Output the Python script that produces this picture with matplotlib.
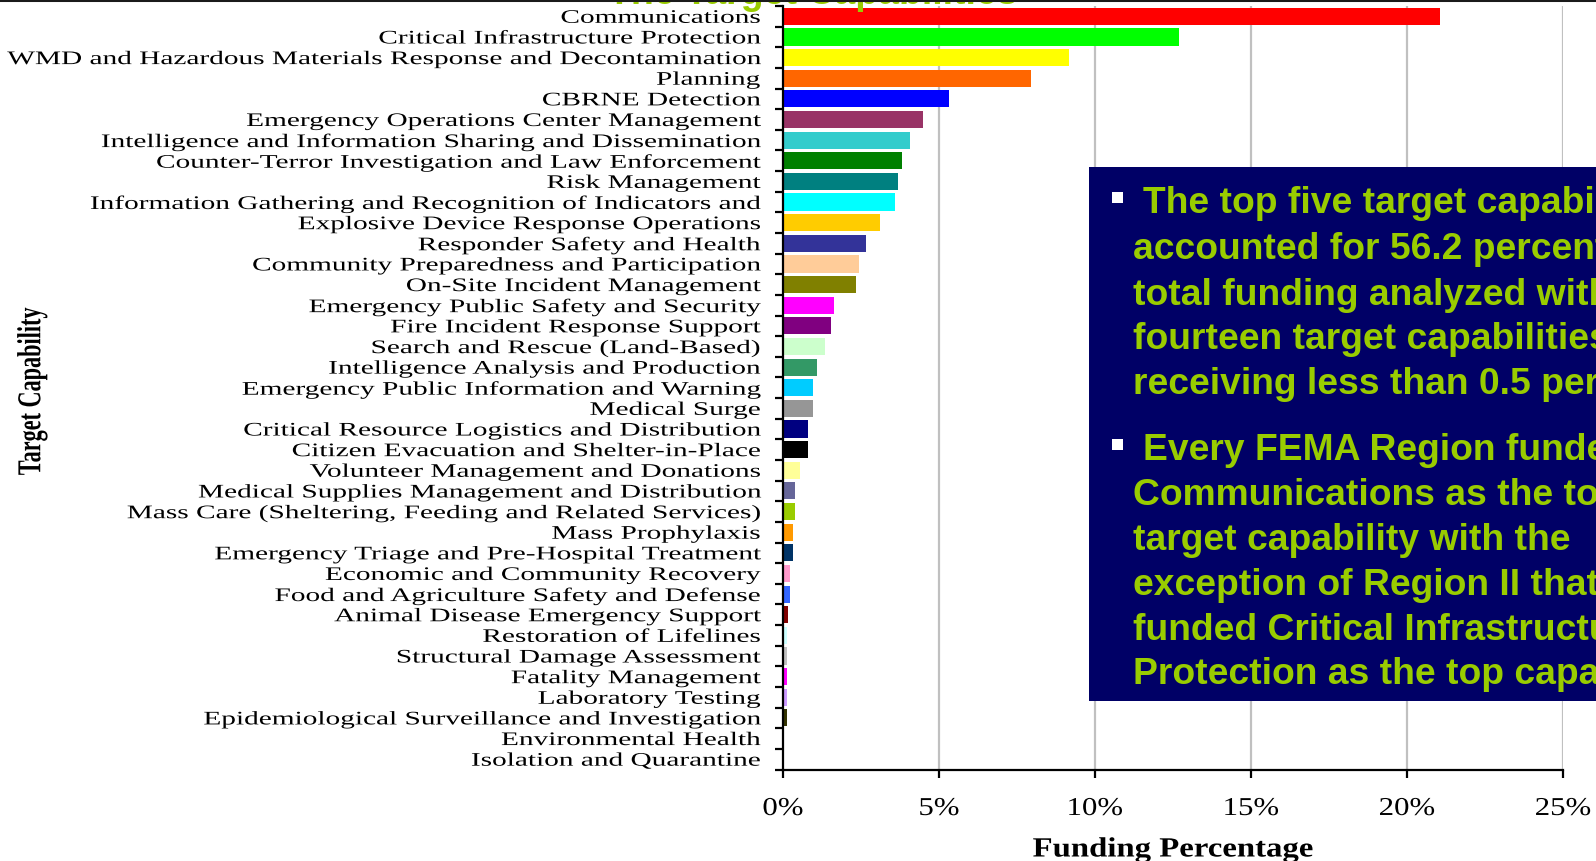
import matplotlib
matplotlib.use("Agg")
import matplotlib.pyplot as plt
from matplotlib.patheffects import AbstractPathEffect
from matplotlib.transforms import Affine2D
from matplotlib.patches import Rectangle
from matplotlib.lines import Line2D

# ---------------- data ----------------
categories = [
    "Communications",
    "Critical Infrastructure Protection",
    "WMD and Hazardous Materials Response and Decontamination",
    "Planning",
    "CBRNE Detection",
    "Emergency Operations Center Management",
    "Intelligence and Information Sharing and Dissemination",
    "Counter-Terror Investigation and Law Enforcement",
    "Risk Management",
    "Information Gathering and Recognition of Indicators and",
    "Explosive Device Response Operations",
    "Responder Safety and Health",
    "Community Preparedness and Participation",
    "On-Site Incident Management",
    "Emergency Public Safety and Security",
    "Fire Incident Response Support",
    "Search and Rescue (Land-Based)",
    "Intelligence Analysis and Production",
    "Emergency Public Information and Warning",
    "Medical Surge",
    "Critical Resource Logistics and Distribution",
    "Citizen Evacuation and Shelter-in-Place",
    "Volunteer Management and Donations",
    "Medical Supplies Management and Distribution",
    "Mass Care (Sheltering, Feeding and Related Services)",
    "Mass Prophylaxis",
    "Emergency Triage and Pre-Hospital Treatment",
    "Economic and Community Recovery",
    "Food and Agriculture Safety and Defense",
    "Animal Disease Emergency Support",
    "Restoration of Lifelines",
    "Structural Damage Assessment",
    "Fatality Management",
    "Laboratory Testing",
    "Epidemiological Surveillance and Investigation",
    "Environmental Health",
    "Isolation and Quarantine",
]

funding_pct = [
    21.05, 12.68, 9.18, 7.95, 5.32, 4.50, 4.07, 3.82, 3.67, 3.58,
    3.10, 2.67, 2.42, 2.35, 1.63, 1.53, 1.34, 1.10, 0.95, 0.95,
    0.79, 0.79, 0.53, 0.37, 0.37, 0.31, 0.31, 0.21, 0.21, 0.15,
    0.13, 0.13, 0.13, 0.13, 0.14, 0.0, 0.0,
]

bar_colors = [
    "#FF0000", "#00FF00", "#FFFF00", "#FF6600", "#0000FF", "#993366",
    "#33CCCC", "#008000", "#008080", "#00FFFF", "#FFCC00", "#333399",
    "#FFCC99", "#808000", "#FF00FF", "#800080", "#CCFFCC", "#339966",
    "#00CCFF", "#969696", "#000080", "#000000", "#FFFF99", "#666699",
    "#99CC00", "#FF9900", "#003366", "#FF99CC", "#3366FF", "#800000",
    "#CCFFFF", "#C0C0C0", "#FF00FF", "#CC99FF", "#333300", "#FFFFFF",
    "#FFFFFF",
]

x_ticks = [0, 5, 10, 15, 20, 25]
x_tick_labels = ["0%", "5%", "10%", "15%", "20%", "25%"]

box_para1 = [
    "The top five target capabilities",
    "accounted for 56.2 percent of the",
    "total funding analyzed with",
    "fourteen target capabilities",
    "receiving less than 0.5 percent.",
]
box_para2 = [
    "Every FEMA Region funded",
    "Communications as the top",
    "target capability with the",
    "exception of Region II that",
    "funded Critical Infrastructure",
    "Protection as the top capability.",
]


# ------------- horizontal stretch effect for text (stays real text) -------------
class StretchX(AbstractPathEffect):
    def __init__(self, sx, anchor="right"):
        super().__init__()
        self.sx = sx
        self.anchor = anchor

    def draw_path(self, renderer, gc, tpath, affine, rgbFace=None):
        ext = tpath.get_extents(affine)
        if self.anchor == "right":
            cx = ext.x1
        elif self.anchor == "left":
            cx = ext.x0
        else:
            cx = 0.5 * (ext.x0 + ext.x1)
        t = affine + Affine2D().translate(-cx, 0).scale(self.sx, 1.0).translate(cx, 0)
        renderer.draw_path(gc, tpath, t, rgbFace)


W, H = 1596, 862
fig = plt.figure(figsize=(W / 100, H / 100), dpi=100)
fig.patch.set_facecolor("white")

ax_l, ax_r = 783, 1563
ax_t, ax_b = 7, 770.5
ax = fig.add_axes([ax_l / W, 1 - ax_b / H, (ax_r - ax_l) / W, (ax_b - ax_t) / H])

ypos = list(range(len(categories)))
ax.barh(ypos, funding_pct, height=0.83, color=bar_colors, edgecolor="none", zorder=3)

ax.set_xlim(0, 25)
ax.set_ylim(len(categories) - 0.5, -0.5)

# grid
for xv in x_ticks[1:]:
    ax.axvline(xv, color="#C0C0C0", lw=1.6, zorder=1)

for side in ["top", "right"]:
    ax.spines[side].set_visible(False)
for side in ["left", "bottom"]:
    ax.spines[side].set_linewidth(1.6)
    ax.spines[side].set_color("black")
    ax.spines[side].set_zorder(4)

# y ticks: labels at centres, tick marks at boundaries
ax.set_yticks(ypos)
ax.set_yticklabels(categories, fontfamily="Liberation Serif", fontsize=13.8, color="black")
ax.tick_params(axis="y", which="major", length=0, pad=16.5)
ax.set_yticks([i + 0.5 for i in range(-1, len(categories))], minor=True)
ax.tick_params(axis="y", which="minor", length=6, width=1.6, direction="out", color="black")
for lab in ax.get_yticklabels():
    lab.set_path_effects([StretchX(1.53, "right")])

# x ticks
ax.set_xticks(x_ticks)
ax.set_xticklabels(x_tick_labels, fontfamily="Liberation Serif", fontsize=18.5)
ax.tick_params(axis="x", which="major", length=6, width=1.6, direction="out", pad=14.5, color="black")
for lab in ax.get_xticklabels():
    lab.set_path_effects([StretchX(1.2, "center")])

# axis titles
xl = ax.set_xlabel("Funding Percentage", fontfamily="Liberation Serif", fontsize=20,
                   fontweight="bold", va="center")
ax.xaxis.set_label_coords(0.5, (ax_b - 851) / (ax_b - ax_t))
xl.set_path_effects([StretchX(1.18, "center")])

yl = ax.set_ylabel("Target Capability", fontfamily="Liberation Serif", fontsize=16,
                   fontweight="bold", va="center", ha="center")
ax.yaxis.set_label_coords((32.6 - ax_l) / (ax_r - ax_l), (ax_b - 392) / (ax_b - ax_t))
yl.set_path_effects([StretchX(1.5, "center")])

# ---------------- overlay text box ----------------
box_l, box_t, box_b = 1089, 168, 702
fig.add_artist(Rectangle((box_l / W, 1 - box_b / H), (W - box_l + 10) / W, (box_b - box_t) / H,
                         transform=fig.transFigure, facecolor="#000066", edgecolor="none",
                         zorder=5))

green = "#99CC00"
fs_box = 26.8
base1 = [213, 259, 305, 349, 394]
base2 = [460, 505, 550, 595, 640, 684]
for i, (s, b) in enumerate(zip(box_para1, base1)):
    fig.text((1143 if i == 0 else 1133) / W, 1 - b / H, s, color=green, fontsize=fs_box,
             fontweight="bold", fontfamily="Liberation Sans", ha="left", va="baseline", zorder=6)
for i, (s, b) in enumerate(zip(box_para2, base2)):
    fig.text((1143 if i == 0 else 1133) / W, 1 - b / H, s, color=green, fontsize=fs_box,
             fontweight="bold", fontfamily="Liberation Sans", ha="left", va="baseline", zorder=6)

for cy in (198.5, 445.5):
    fig.add_artist(Rectangle((1112 / W, 1 - (cy + 5.5) / H), 11 / W, 11 / H,
                             transform=fig.transFigure, facecolor="white", edgecolor="none",
                             zorder=6))

# top cut-off title and dark frame line
fig.text(608 / W, 1 - 4.5 / H, "The Target Capabilities", color=green, fontsize=27,
         fontweight="bold", fontfamily="Liberation Sans", ha="left", va="baseline", zorder=6)
fig.add_artist(Line2D([0, 1], [1 - 1 / H, 1 - 1 / H], transform=fig.transFigure,
                      color="#1a1a1a", lw=2.2, zorder=7))

fig.savefig("out.png", dpi=100)
